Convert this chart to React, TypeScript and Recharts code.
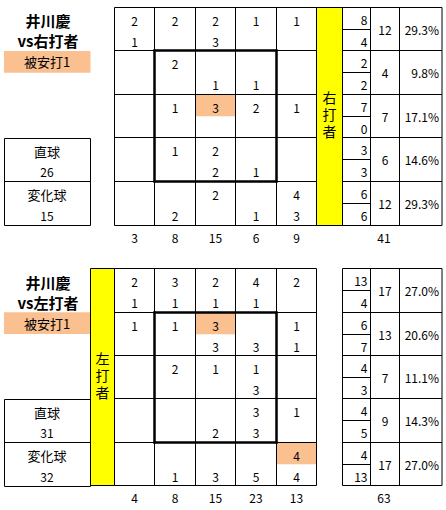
import React from 'react';
import { ScatterChart, Scatter, XAxis, YAxis, ReferenceLine, ReferenceArea } from 'recharts';

const _ = null;

// ---- data: vs right-handed batters (upper = 直球, lower = 変化球) ----
const rightUpper = [
  [2, 2, 2, 1, 1],
  [_, 2, _, _, _],
  [_, 1, 3, 2, 1],
  [_, 1, 2, _, _],
  [_, _, 2, _, 4],
];
const rightLower = [
  [1, _, 3, _, _],
  [_, _, 1, 1, _],
  [_, _, _, _, _],
  [_, _, 2, 1, _],
  [_, 2, _, 1, 3],
];
const rightRowUpper = [8, 2, 7, 3, 6];
const rightRowLower = [4, 2, 0, 3, 6];
const rightRowTotal = [12, 4, 7, 6, 12];
const rightRowPct = ['29.3%', '9.8%', '17.1%', '14.6%', '29.3%'];
const rightColTotal = [3, 8, 15, 6, 9];
const rightGrand = 41;
const rightHits = [[2, 2]]; // [row, col] upper slot
const rightFast = 26;
const rightBreak = 15;

// ---- data: vs left-handed batters ----
const leftUpper = [
  [2, 3, 2, 4, 2],
  [1, 1, 3, _, 1],
  [_, 2, 1, 1, _],
  [_, _, _, 3, 1],
  [_, _, _, _, 4],
];
const leftLower = [
  [1, 1, 1, 1, _],
  [_, _, 3, 3, 1],
  [_, _, _, 3, _],
  [_, _, 2, 3, _],
  [_, 1, 3, 5, 4],
];
const leftRowUpper = [13, 6, 4, 4, 4];
const leftRowLower = [4, 7, 3, 5, 13];
const leftRowTotal = [17, 13, 7, 9, 17];
const leftRowPct = ['27.0%', '20.6%', '11.1%', '14.3%', '27.0%'];
const leftColTotal = [4, 8, 15, 23, 13];
const leftGrand = 63;
const leftHits = [[1, 2], [4, 4]];
const leftFast = 31;
const leftBreak = 32;

const pitcher = '井川慶';
const hitsLabel = '被安打1';

// ---- layout ----
const W = 446;
const H = 510;
const FONT = "'Noto Sans CJK JP', 'Noto Sans', sans-serif";
const snap = (v: number) => Math.round(v - 0.5) + 0.5;

const GX0 = 114.5;
const CW = 40.4;
const TX = [342.5, 370.5, 399.5, 442];
const ORANGE = '#FAC090';
const YELLOW = '#FFFF00';

type Panel = {
  upper: (number | null)[][];
  lower: (number | null)[][];
  rowUpper: number[];
  rowLower: number[];
  rowTotal: number[];
  rowPct: string[];
  colTotal: number[];
  grand: number;
  hits: number[][];
  fast: number;
  brk: number;
  vs: string;
  band: string;
  y0: number;
  rh: number;
  bandX: [number, number];
  bandY: number;
  totalsY: number;
  titleY: number;
  hitBox: [number, number];
  infoBox: [number, number];
};

const panels: Panel[] = [
  {
    upper: rightUpper, lower: rightLower, rowUpper: rightRowUpper, rowLower: rightRowLower,
    rowTotal: rightRowTotal, rowPct: rightRowPct, colTotal: rightColTotal, grand: rightGrand,
    hits: rightHits, fast: rightFast, brk: rightBreak, vs: 'vs右打者', band: '右打者',
    y0: 7.3, rh: 43.55, bandX: [316.5, 342.5], bandY: 116, totalsY: 237,
    titleY: 20, hitBox: [51, 72.7], infoBox: [138.3, 225],
  },
  {
    upper: leftUpper, lower: leftLower, rowUpper: leftRowUpper, rowLower: leftRowLower,
    rowTotal: leftRowTotal, rowPct: leftRowPct, colTotal: leftColTotal, grand: leftGrand,
    hits: leftHits, fast: leftFast, brk: leftBreak, vs: 'vs左打者', band: '左打者',
    y0: 268.6, rh: 43.45, bandX: [90.5, 114.5], bandY: 377, totalsY: 497,
    titleY: 282, hitBox: [312.3, 334], infoBox: [399.3, 486],
  },
];

type Lbl = {
  x: number; y: number; text: string[]; step?: number; anchor?: string;
  size?: number; weight?: string; vertical?: boolean;
};

const labels: Lbl[] = [];
const areas: { x1: number; x2: number; y1: number; y2: number; fill: string }[] = [];
const lines: { x1: number; y1: number; x2: number; y2: number; w: number }[] = [];

panels.forEach((p) => {
  const gx = (c: number) => snap(GX0 + CW * c);
  const gy = (r: number) => snap(p.y0 + p.rh * r);
  const top = gy(0);
  const bot = gy(5);

  // fills
  areas.push({ x1: p.bandX[0], x2: p.bandX[1], y1: top, y2: bot, fill: YELLOW });
  areas.push({ x1: 4, x2: 90.5, y1: p.hitBox[0], y2: p.hitBox[1], fill: ORANGE });
  p.hits.forEach(([r, c]) => {
    areas.push({ x1: gx(c) + 0.5, x2: gx(c + 1) - 0.5, y1: gy(r) + 0.5, y2: gy(r) + p.rh / 2, fill: ORANGE });
  });

  // grid lines
  for (let c = 0; c <= 5; c++) lines.push({ x1: gx(c), y1: top, x2: gx(c), y2: bot, w: 1 });
  for (let r = 0; r <= 5; r++) lines.push({ x1: gx(0), y1: gy(r), x2: gx(5), y2: gy(r), w: 1 });
  // band border
  [p.bandX[0], p.bandX[1]].forEach((x) => lines.push({ x1: x, y1: top, x2: x, y2: bot, w: 1 }));
  [top, bot].forEach((y) => lines.push({ x1: p.bandX[0], y1: y, x2: p.bandX[1], y2: y, w: 1 }));
  // right table
  TX.forEach((x) => lines.push({ x1: x, y1: top, x2: x, y2: bot, w: 1 }));
  for (let r = 0; r <= 5; r++) lines.push({ x1: TX[0], y1: gy(r), x2: TX[3], y2: gy(r), w: 1 });
  for (let r = 0; r < 5; r++) {
    const m = snap(gy(r) + p.rh / 2);
    lines.push({ x1: TX[0], y1: m, x2: TX[1], y2: m, w: 1 });
  }
  // info box
  const [b0, b1] = p.infoBox;
  const bm = snap((b0 + b1) / 2);
  [4.5, 90.5].forEach((x) => lines.push({ x1: x, y1: snap(b0), x2: x, y2: snap(b1), w: 1 }));
  [snap(b0), bm, snap(b1)].forEach((y) => lines.push({ x1: 4.5, y1: y, x2: 90.5, y2: y, w: 1 }));
  // strike zone (thick)
  const zx0 = gx(1), zx1 = gx(4), zy0 = gy(1), zy1 = gy(4);
  lines.push({ x1: zx0, y1: zy0 - 1, x2: zx0, y2: zy1 + 1, w: 2.5 });
  lines.push({ x1: zx1, y1: zy0 - 1, x2: zx1, y2: zy1 + 1, w: 2.5 });
  lines.push({ x1: zx0 - 1, y1: zy0, x2: zx1 + 1, y2: zy0, w: 2.5 });
  lines.push({ x1: zx0 - 1, y1: zy1, x2: zx1 + 1, y2: zy1, w: 2.5 });

  // cell numbers
  for (let r = 0; r < 5; r++) {
    for (let c = 0; c < 5; c++) {
      const cx = (gx(c) + gx(c + 1)) / 2;
      const u = p.upper[r][c];
      const l = p.lower[r][c];
      if (u !== null) labels.push({ x: cx, y: gy(r) + 12.5, text: [String(u)] });
      if (l !== null) labels.push({ x: cx, y: gy(r) + 34, text: [String(l)] });
    }
    labels.push({ x: TX[1] - 3, y: gy(r) + 11.5, text: [String(p.rowUpper[r])], anchor: 'end' });
    labels.push({ x: TX[1] - 3, y: gy(r) + 33.5, text: [String(p.rowLower[r])], anchor: 'end' });
    labels.push({ x: (TX[1] + TX[2]) / 2, y: gy(r) + 22, text: [String(p.rowTotal[r])] });
    labels.push({ x: TX[3] - 3, y: gy(r) + 22, text: [p.rowPct[r]], anchor: 'end' });
  }
  for (let c = 0; c < 5; c++) {
    labels.push({ x: (gx(c) + gx(c + 1)) / 2, y: p.totalsY, text: [String(p.colTotal[c])] });
  }
  labels.push({ x: (TX[1] + TX[2]) / 2 - 1, y: p.totalsY, text: [String(p.grand)] });

  // band text (vertical writing)
  const bx = (p.bandX[0] + p.bandX[1]) / 2;
  labels.push({ x: bx, y: p.bandY, text: [p.band], size: 14, vertical: true });

  // left panel text
  labels.push({ x: 48, y: p.titleY, text: [pitcher, p.vs], step: 20, size: 15, weight: 'bold' });
  labels.push({ x: 47, y: (p.hitBox[0] + p.hitBox[1]) / 2, text: [hitsLabel], size: 13 });
  const q = (b1 - b0) / 4;
  labels.push({ x: 47, y: b0 + q * 0.6, text: ['直球'], size: 13 });
  labels.push({ x: 47, y: b0 + q * 1.55, text: [String(p.fast)], size: 12 });
  labels.push({ x: 47, y: b0 + q * 2.6, text: ['変化球'], size: 13 });
  labels.push({ x: 47, y: b0 + q * 3.55, text: [String(p.brk)], size: 12 });
});

const LabelShape = (props: any) => {
  const { cx, cy, payload } = props;
  const lines: string[] = payload.text;
  if (payload.vertical) {
    return (
      <text
        x={cx}
        y={cy}
        textAnchor="middle"
        fontSize={payload.size || 12}
        fontFamily={FONT}
        fill="#000"
        style={{ writingMode: 'vertical-rl', letterSpacing: '3px' } as any}
      >
        {lines[0]}
      </text>
    );
  }
  return (
    <text
      x={cx}
      y={cy}
      textAnchor={payload.anchor || 'middle'}
      dominantBaseline="central"
      fontSize={payload.size || 12}
      fontWeight={payload.weight || 'normal'}
      fontFamily={FONT}
      fill="#000"
    >
      {lines.length === 1
        ? lines[0]
        : lines.map((t, i) => (
            <tspan key={i} x={cx} y={cy + i * (payload.step || 16)}>
              {t}
            </tspan>
          ))}
    </text>
  );
};

export default function App() {
  return (
    <div style={{ position: 'absolute', left: 0, top: 0, width: W, height: H, background: '#fff' }}>
      <ScatterChart width={W} height={H} margin={{ top: 0, right: 0, bottom: 0, left: 0 }}>
        <XAxis type="number" dataKey="x" domain={[0, W]} hide allowDataOverflow />
        <YAxis type="number" dataKey="y" domain={[0, H]} reversed hide allowDataOverflow />
        {areas.map((a, i) => (
          <ReferenceArea
            key={'a' + i}
            x1={a.x1}
            x2={a.x2}
            y1={a.y1}
            y2={a.y2}
            fill={a.fill}
            fillOpacity={1}
            stroke="none"
            ifOverflow="visible"
          />
        ))}
        {lines.map((l, i) => (
          <ReferenceLine
            key={'l' + i}
            segment={[{ x: l.x1, y: l.y1 }, { x: l.x2, y: l.y2 }]}
            stroke="#000"
            strokeWidth={l.w}
            ifOverflow="visible"
          />
        ))}
        <Scatter data={labels} shape={LabelShape} isAnimationActive={false} />
      </ScatterChart>
    </div>
  );
}
